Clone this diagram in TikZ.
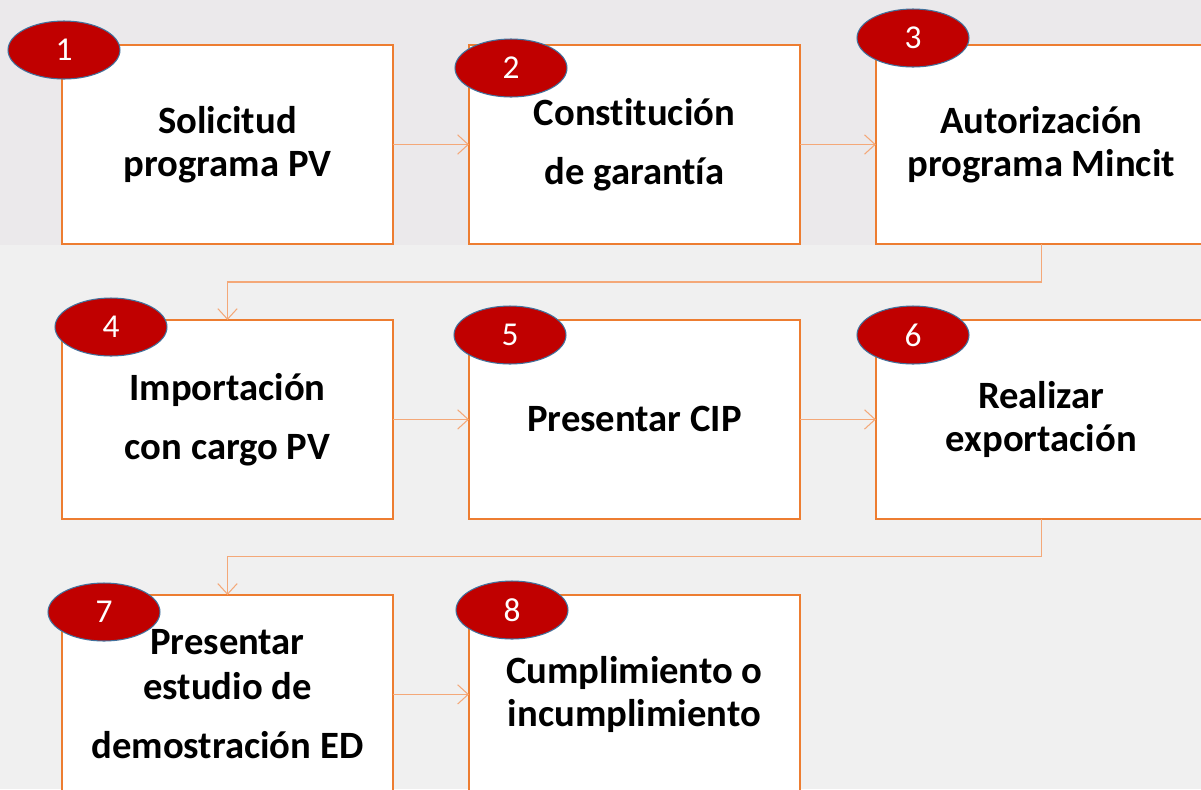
\documentclass[tikz,border=0pt]{standalone}
\usepackage{fontspec}
\setmainfont{Carlito}[Ligatures=NoCommon]
\usetikzlibrary{positioning, arrows.meta, shapes.geometric}
\definecolor{bordeorange}{HTML}{ED7D31}
\definecolor{flechaorange}{HTML}{F4A878}
\definecolor{rojopaso}{HTML}{C00000}
\definecolor{azulborde}{HTML}{41719C}
\definecolor{fondoalto}{HTML}{EBE9EB}
\definecolor{fondobajo}{HTML}{F0F0F0}

\begin{document}
\begin{tikzpicture}[
    x=0.02cm, y=-0.02cm,
    paso/.style={rectangle, draw=bordeorange, fill=white, line width=1.2pt, minimum width=6.62cm, minimum height=3.98cm, align=center, font=\fontsize{22}{24.4}\selectfont\bfseries, inner sep=0pt, outer sep=0pt},
    num/.style={ellipse, draw=azulborde, fill=rojopaso, line width=0.6pt, minimum width=2.24cm, minimum height=1.16cm, inner sep=0pt, text=white, font=\fontsize{19}{20}\selectfont},
    flecha/.style={-{Straight Barb[length=6pt, width=11pt]}, line width=0.6pt, draw=flechaorange}
]
    \useasboundingbox (0,0) rectangle (1201,789);
    \clip (0,0) rectangle (1201,789);
    \fill[fondobajo] (0,0) rectangle (1201,789);
    \fill[fondoalto] (0,0) rectangle (1201,245);

    % first row
    \node[paso] (sol) at (227.5,144.5) {Solicitud\\programa PV};
    \node[paso] (gar) [right=1.52cm of sol] {Constitución\\[9pt]de garantía};
    \node[paso] (aut) [right=1.52cm of gar] {Autorización\\programa Mincit};

    % second row
    \node[paso] (imp) [below=1.52cm of sol] {Importación\\[9pt]con cargo PV};
    \node[paso] (cip) [right=1.52cm of imp] {Presentar CIP};
    \node[paso] (exp) [right=1.52cm of cip] {Realizar\\exportación};

    % third row
    \node[paso] (est) [below=1.52cm of imp] {Presentar\\[1pt]estudio de\\[9.5pt]demostración ED};
    \node[paso] (cum) [right=1.52cm of est] {Cumplimiento o\\incumplimiento};

    % numbers
    \node[num] (n1) at (64,50) {1};
    \node[num] (n2) at (511,68) {2};
    \node[num] (n3) at (913,38) {3};
    \node[num] (n4) at (111,327) {4};
    \node[num] (n5) at (510,335) {5};
    \node[num] (n6) at (913,335) {6};
    \node[num] (n7) at (104,612) {7};
    \node[num] (n8) at (512,610) {8};

    % connectors
    \draw[flecha] (sol) -- (gar);
    \draw[flecha] (gar) -- (aut);
    \draw[flecha] (aut.south) -- ++(0,38) -| (imp.north);
    \draw[flecha] (imp) -- (cip);
    \draw[flecha] (cip) -- (exp);
    \draw[flecha] (exp.south) -- ++(0,38) -| (est.north);
    \draw[flecha] (est) -- (cum);
\end{tikzpicture}
\end{document}
